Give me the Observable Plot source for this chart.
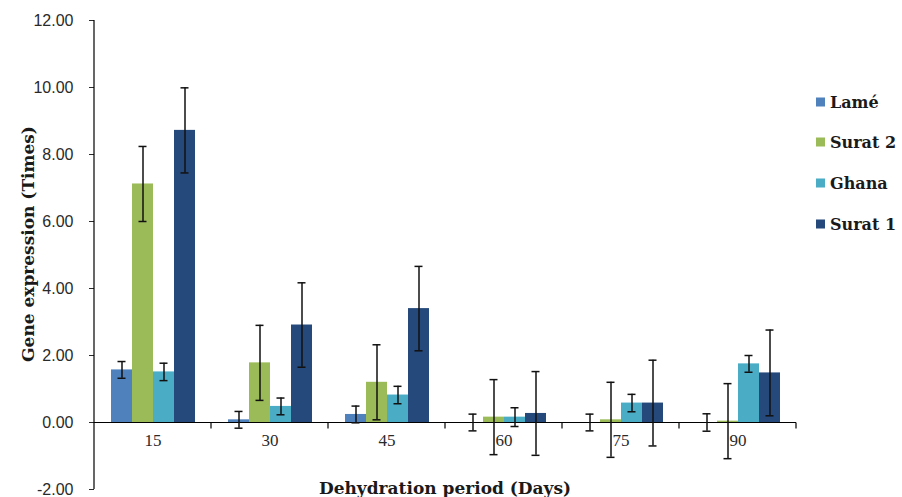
<!DOCTYPE html>
<html>
<head>
<meta charset="utf-8">
<script src="https://cdn.jsdelivr.net/npm/d3@7"></script>
<script src="https://cdn.jsdelivr.net/npm/@observablehq/plot@0.6"></script>
<style>
  html, body { margin: 0; padding: 0; background: #fff; }
  #wrap { position: relative; width: 902px; height: 497px; overflow: hidden; }
  .title { position: absolute; font-family: "DejaVu Serif", serif; font-weight: bold; font-size: 17px; color: #1a1a1a; white-space: nowrap; }
  #ytitle { left: 28px; top: 244px; transform: translate(-50%, -50%) rotate(-90deg); }
  #xtitle { left: 445px; top: 488px; transform: translate(-50%, -50%); }
  #legend { position: absolute; left: 816px; top: 0; font-family: "DejaVu Serif", serif; font-weight: bold; font-size: 16px; color: #1a1a1a; }
  .li { position: absolute; left: 0; display: flex; align-items: center; white-space: nowrap; transform: translateY(-50%); }
  .sw { width: 9px; height: 9px; margin-right: 5px; }
</style>
</head>
<body>
<div id="wrap"></div>
<script>
// ---- data ----
const days = ["15", "30", "45", "60", "75", "90"];
const seriesNames = ["Lamé", "Surat 2", "Ghana", "Surat 1"];
const seriesColors = ["#4f81bd", "#9bbb59", "#4bacc6", "#24497a"];
const lame      = [1.57, 0.08, 0.24, 0.00, 0.00, 0.00];
const lameErr   = [0.25, 0.25, 0.25, 0.25, 0.25, 0.26];
const surat2    = [7.12, 1.78, 1.20, 0.16, 0.08, 0.04];
const surat2Err = [1.12, 1.12, 1.12, 1.12, 1.12, 1.12];
const ghana     = [1.51, 0.48, 0.82, 0.16, 0.58, 1.75];
const ghanaErr  = [0.26, 0.25, 0.26, 0.28, 0.26, 0.25];
const surat1    = [8.72, 2.91, 3.40, 0.27, 0.58, 1.48];
const surat1Err = [1.27, 1.26, 1.26, 1.25, 1.28, 1.28];
const yTicks = [-2, 0, 2, 4, 6, 8, 10, 12];
const yTitle = "Gene expression (Times)";
const xTitle = "Dehydration period (Days)";

const valuesBySeries = [lame, surat2, ghana, surat1];
const errBySeries = [lameErr, surat2Err, ghanaErr, surat1Err];
const rows = [];
days.forEach((d, i) => seriesNames.forEach((s, j) => {
  rows.push({day: d, series: s, value: valuesBySeries[j][i], err: errBySeries[j][i]});
}));

const yMin = d3.min(yTicks), yMax = d3.max(yTicks);

const chart = Plot.plot({
  width: 902,
  height: 497,
  marginLeft: 92,
  marginRight: 104,
  marginTop: 20,
  marginBottom: 8,
  style: {fontFamily: "'Liberation Sans', sans-serif", fontSize: "16px", color: "#2a2a2a", background: "#fff", overflow: "visible"},
  fx: {domain: days, padding: 0, axis: null},
  x: {domain: seriesNames, paddingInner: 0, paddingOuter: 0.76, axis: null},
  y: {domain: [yMin, yMax], ticks: yTicks, tickFormat: d => d.toFixed(2), tickSize: 5, tickPadding: 16, label: null, grid: false},
  color: {domain: seriesNames, range: seriesColors},
  marks: [
    Plot.barY(rows, {fx: "day", x: "series", y: "value", fill: "series"}),
    // x axis line with category boundary ticks
    Plot.ruleY([0], {
      stroke: "#000", strokeWidth: 1.2,
      render(index, scales, values, dims, context, next) {
        const g = next(index, scales, values, dims, context);
        const xr = dims.width - dims.marginRight;
        const y0 = scales.y(0);
        d3.select(g).append("line")
          .attr("x1", xr).attr("x2", xr)
          .attr("y1", y0).attr("y2", y0 + 6)
          .attr("stroke", "#000").attr("stroke-width", 1.2);
        return g;
      }
    }),
    // y axis line (first facet only)
    Plot.ruleY([days[0]], {
      fx: d => d, y: () => 0,
      render(index, scales, values, dims) {
        const g = d3.create("svg:g");
        g.append("line")
          .attr("x1", dims.marginLeft).attr("x2", dims.marginLeft)
          .attr("y1", scales.y(yMax)).attr("y2", scales.y(yMin))
          .attr("stroke", "#000").attr("stroke-width", 1.2);
        return g.node();
      }
    }),
    // error bars
    Plot.ruleX(rows, {fx: "day", x: "series", y1: d => d.value - d.err, y2: d => d.value + d.err, stroke: "#111", strokeWidth: 1.5}),
    Plot.tickY(rows, {fx: "day", x: "series", y: d => d.value - d.err, insetLeft: 6.5, insetRight: 6.5, stroke: "#111", strokeWidth: 1.5}),
    Plot.tickY(rows, {fx: "day", x: "series", y: d => d.value + d.err, insetLeft: 6.5, insetRight: 6.5, stroke: "#111", strokeWidth: 1.5}),
    // category labels
    Plot.text(days, {fx: d => d, y: () => 0, text: d => d, dy: 18, fontFamily: "'Liberation Serif', serif", fontSize: 17, fill: "#2a2a2a"})
  ]
});

const wrap = document.getElementById("wrap");
wrap.appendChild(chart);

const yt = document.createElement("div");
yt.className = "title"; yt.id = "ytitle"; yt.textContent = yTitle;
wrap.appendChild(yt);
const xt = document.createElement("div");
xt.className = "title"; xt.id = "xtitle"; xt.textContent = xTitle;
wrap.appendChild(xt);

const legend = document.createElement("div");
legend.id = "legend";
const legendY = [102, 142, 183, 224];
seriesNames.forEach((s, j) => {
  const item = document.createElement("div");
  item.className = "li";
  item.style.top = legendY[j] + "px";
  const sw = document.createElement("span");
  sw.className = "sw";
  sw.style.background = seriesColors[j];
  const tx = document.createElement("span");
  tx.textContent = s;
  item.appendChild(sw); item.appendChild(tx);
  legend.appendChild(item);
});
wrap.appendChild(legend);
</script>
</body>
</html>
